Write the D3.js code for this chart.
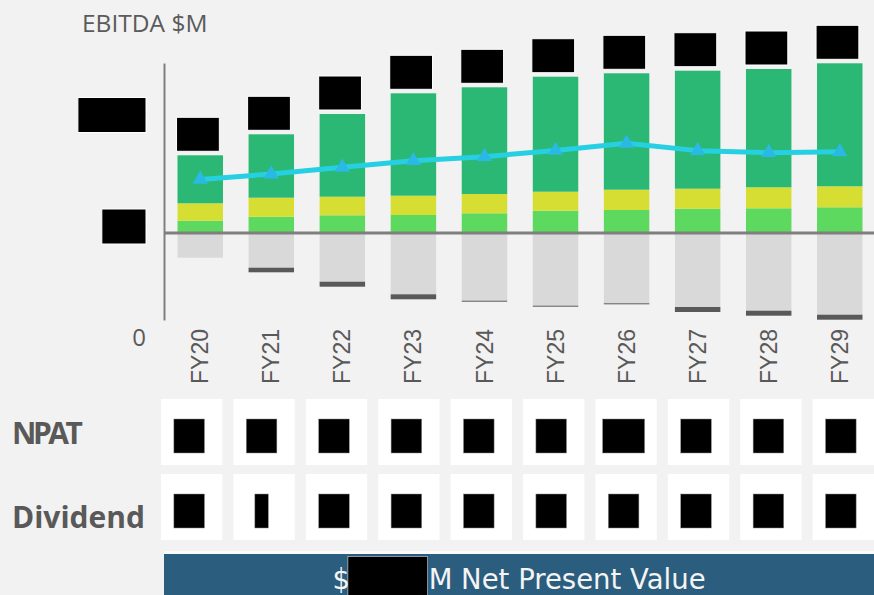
<!DOCTYPE html>
<html>
<head>
<meta charset="utf-8">
<script src="https://cdn.jsdelivr.net/npm/d3@7/dist/d3.min.js"></script>
<style>
  html, body { margin: 0; padding: 0; background: #f2f2f2; }
  svg { display: block; font-family: "Open Sans", sans-serif; }
</style>
</head>
<body>
<script>

// **** data *****************
var years = ["FY20", "FY21", "FY22", "FY23", "FY24", "FY25", "FY26", "FY27", "FY28", "FY29"];

var ebitdaBase = [12.3, 16.3, 17.7, 18, 19.7, 22.3, 23, 24.3, 24.7, 25.7];      // light green
var ebitdaMid = [17.4, 19, 18.6, 19.3, 19.3, 19, 20.3, 20, 21, 21];            // yellow
var ebitdaTop = [48, 63.4, 82.7, 102.4, 106.7, 115, 116.4, 118, 118.3, 123];   // dark green
var costs = [-24.7, -34.7, -48.7, -61.3, -67.7, -72.7, -70.3, -74, -77.7, -81.7];
var costsExtra = [0, -4.6, -5, -5, -1, -1, -1, -5, -5, -5];

var lineValues = [709, 733, 763, 793, 811, 839, 871, 838, 829, 833];
var leftTicks = [0, 500, 1000];

var npat = ["8.2", "8.4", "8.6", "8.8", "9.1", "9.3", "10.5", "9.6", "9.7", "9.9"];
var dividend = ["4.1", "0", "4.3", "4.4", "4.6", "4.7", "4.8", "4.8", "4.9", "5.0"];
var npv = "1,250";

var width = 874;
var height = 595;

var svg = d3.select("body").append("svg")
      .attr("width", width)
      .attr("height", height);

svg.append("rect")
    .attr("width", width)
    .attr("height", height)
    .attr("fill", "#f2f2f2");

var x = d3.scaleBand()
    .domain(years)
    .range([164, 876])
    .paddingInner(0.36)
    .paddingOuter(0.19);

var y = d3.scaleLinear()
    .domain([-87, 170])
    .range([320, 63]);

var yLeft = d3.scaleLinear()
    .domain([0, 1000])
    .range([337.5, 114.5]);

// **** title *****************
svg.append("text")
    .attr("x", 82)
    .attr("y", 32)
    .attr("font-size", 24.5)
    .attr("fill", "#5b5b5b")
    .text("EBITDA $M");

// **** stacked bars *****************
var rows = years.map(function(d, i) {
  return {year: d, base: ebitdaBase[i], mid: ebitdaMid[i], top: ebitdaTop[i],
          cost: costs[i], costExtra: costsExtra[i]};
});

var keys = ["base", "mid", "top", "cost", "costExtra"];
var colors = {base: "#5dd95f", mid: "#d6de33", top: "#2bb874", cost: "#d9d9d9", costExtra: "#595959"};

var series = d3.stack()
    .keys(keys)
    .offset(d3.stackOffsetDiverging)(rows);

svg.append("g").selectAll("g")
  .data(series)
  .join("g")
    .attr("fill", function(d) { return colors[d.key]; })
  .selectAll("rect")
  .data(function(d) { return d; })
  .join("rect")
    .attr("x", function(d) { return x(d.data.year); })
    .attr("width", x.bandwidth())
    .attr("y", function(d) { return y(d[1]); })
    .attr("height", function(d) { return y(d[0]) - y(d[1]); });

// redacted total labels above bars
svg.append("g").selectAll("rect")
  .data(rows)
  .join("rect")
    .attr("x", function(d) { return x(d.year) + x.bandwidth() / 2 - 2.3 - 21.4; })
    .attr("y", function(d) { return y(d.base + d.mid + d.top) - 4 - 34; })
    .attr("width", 42.8)
    .attr("height", 34)
    .attr("fill", "#000")
    .attr("stroke", "#fff")
    .attr("stroke-width", 1);

// **** axes *****************
var yAxis = svg.append("g")
    .attr("transform", "translate(164,0)")
    .call(d3.axisLeft(y).tickValues([]).tickSizeOuter(0));
yAxis.select(".domain").attr("stroke", "#808080").attr("stroke-width", 2);

svg.append("line")
    .attr("x1", 164)
    .attr("x2", 874)
    .attr("y1", y(0))
    .attr("y2", y(0))
    .attr("stroke", "#7f7f7f")
    .attr("stroke-width", 3);

var leftAxis = svg.append("g")
    .attr("transform", "translate(146,0)")
    .call(d3.axisLeft(yLeft).tickValues(leftTicks).tickSize(0).tickPadding(0).tickFormat(d3.format(",")));
leftAxis.select(".domain").remove();
leftAxis.selectAll("text")
    .attr("font-family", "Open Sans")
    .attr("font-size", 24)
    .attr("fill", "#5b5b5b");
leftAxis.selectAll(".tick").each(function(d) {
  if (d === 0) return;
  var t = d3.select(this).select("text").attr("fill", "#000");
  var len = t.node().getComputedTextLength();
  var w = len + (len > 50 ? 7 : 3);
  d3.select(this).insert("rect", "text")
      .attr("x", -w)
      .attr("y", -17.5)
      .attr("width", w)
      .attr("height", 35)
      .attr("fill", "#000")
      .attr("stroke", "#fff")
      .attr("stroke-width", 1);
});

var xAxis = svg.append("g")
    .attr("transform", "translate(0,384)")
    .call(d3.axisBottom(x).tickSize(0));
xAxis.select(".domain").remove();
xAxis.selectAll("text")
    .attr("font-family", "Liberation Sans")
    .attr("font-size", 23)
    .attr("fill", "#595959")
    .attr("transform", "rotate(-90)")
    .attr("text-anchor", "start")
    .attr("x", 0)
    .attr("y", 0)
    .attr("dy", "0.35em");

// **** line *****************
var line = d3.line()
    .x(function(d, i) { return x(years[i]) + x.bandwidth() / 2; })
    .y(function(d) { return yLeft(d); });

svg.append("path")
    .datum(lineValues)
    .attr("d", line)
    .attr("fill", "none")
    .attr("stroke", "#26d0e2")
    .attr("stroke-width", 5)
    .attr("stroke-linejoin", "round");

svg.append("g").selectAll("path")
  .data(lineValues)
  .join("path")
    .attr("d", d3.symbol(d3.symbolTriangle, 100))
    .attr("transform", function(d, i) {
      return "translate(" + (x(years[i]) + x.bandwidth() / 2) + "," + yLeft(d) + ")";
    })
    .attr("fill", "#2ab9e4");

// **** table *****************
var tableRows = [{name: "NPAT", values: npat}, {name: "Dividend", values: dividend}];

var xt = d3.scaleBand()
    .domain(years)
    .range([161, 874])
    .paddingInner(0.153)
    .paddingOuter(0);

var yt = d3.scaleBand()
    .domain(tableRows.map(function(d) { return d.name; }))
    .range([399, 540])
    .paddingInner(0.12);

var rowG = svg.append("g").selectAll("g")
  .data(tableRows)
  .join("g")
    .attr("transform", function(d) { return "translate(0," + yt(d.name) + ")"; });

rowG.append("text")
    .attr("x", 12)
    .attr("y", function(d, i) { return yt.bandwidth() / 2 + 12 + i * 9; })
    .attr("font-size", 30)
    .attr("font-weight", "bold")
    .attr("letter-spacing", function(d, i) { return i === 0 ? -3.5 : 0; })
    .attr("fill", "#595959")
    .text(function(d) { return d.name; });

var cell = rowG.selectAll("g.cell")
  .data(function(d) { return d.values.map(function(v, i) { return {year: years[i], value: v}; }); })
  .join("g")
    .attr("class", "cell")
    .attr("transform", function(d) { return "translate(" + xt(d.year) + ",0)"; });

cell.append("rect")
    .attr("width", xt.bandwidth())
    .attr("height", yt.bandwidth())
    .attr("fill", "#fff");

cell.each(function(d) {
  var g = d3.select(this);
  var t = g.append("text")
      .attr("font-size", 20)
      .attr("font-weight", "bold")
      .attr("text-anchor", "middle")
      .attr("x", xt.bandwidth() / 2 - 2.5)
      .attr("y", 43)
      .attr("fill", "#000")
      .text(d.value);
  var w = t.node().getComputedTextLength() + 2;
  g.insert("rect", "text")
      .attr("x", xt.bandwidth() / 2 - 2.5 - w / 2)
      .attr("y", 20)
      .attr("width", w)
      .attr("height", 34)
      .attr("fill", "#000")
      .attr("stroke", "#8a8a8a")
      .attr("stroke-width", 0.5);
});

// **** NPV bar *****************
svg.append("rect")
    .attr("x", 164)
    .attr("y", 551)
    .attr("width", 710)
    .attr("height", 3)
    .attr("fill", "#fbfbfb");

svg.append("rect")
    .attr("x", 164)
    .attr("y", 554)
    .attr("width", 710)
    .attr("height", 45)
    .attr("fill", "#2b5d7e");

var npvText = svg.append("text")
    .attr("x", (164 + 874) / 2)
    .attr("y", 589)
    .attr("text-anchor", "middle")
    .attr("font-family", "DejaVu Sans")
    .attr("font-size", 27.5)
    .attr("fill", "#f4f4f4");
npvText.append("tspan").text("$");
npvText.append("tspan").attr("fill", "#000").text(npv);
npvText.append("tspan").text("M Net Present Value");

// redacted NPV value
var tn = npvText.node();
var full = tn.getComputedTextLength();
var startX = (164 + 874) / 2 - full / 2;
var dollarW = tn.getSubStringLength(0, 1);
var valW = tn.getSubStringLength(1, npv.length);
svg.append("rect")
    .attr("x", startX + dollarW - 2)
    .attr("y", 556.5)
    .attr("width", valW + 1)
    .attr("height", 45)
    .attr("fill", "#000")
    .attr("stroke", "#fff")
    .attr("stroke-width", 0.5);

</script>
</body>
</html>
